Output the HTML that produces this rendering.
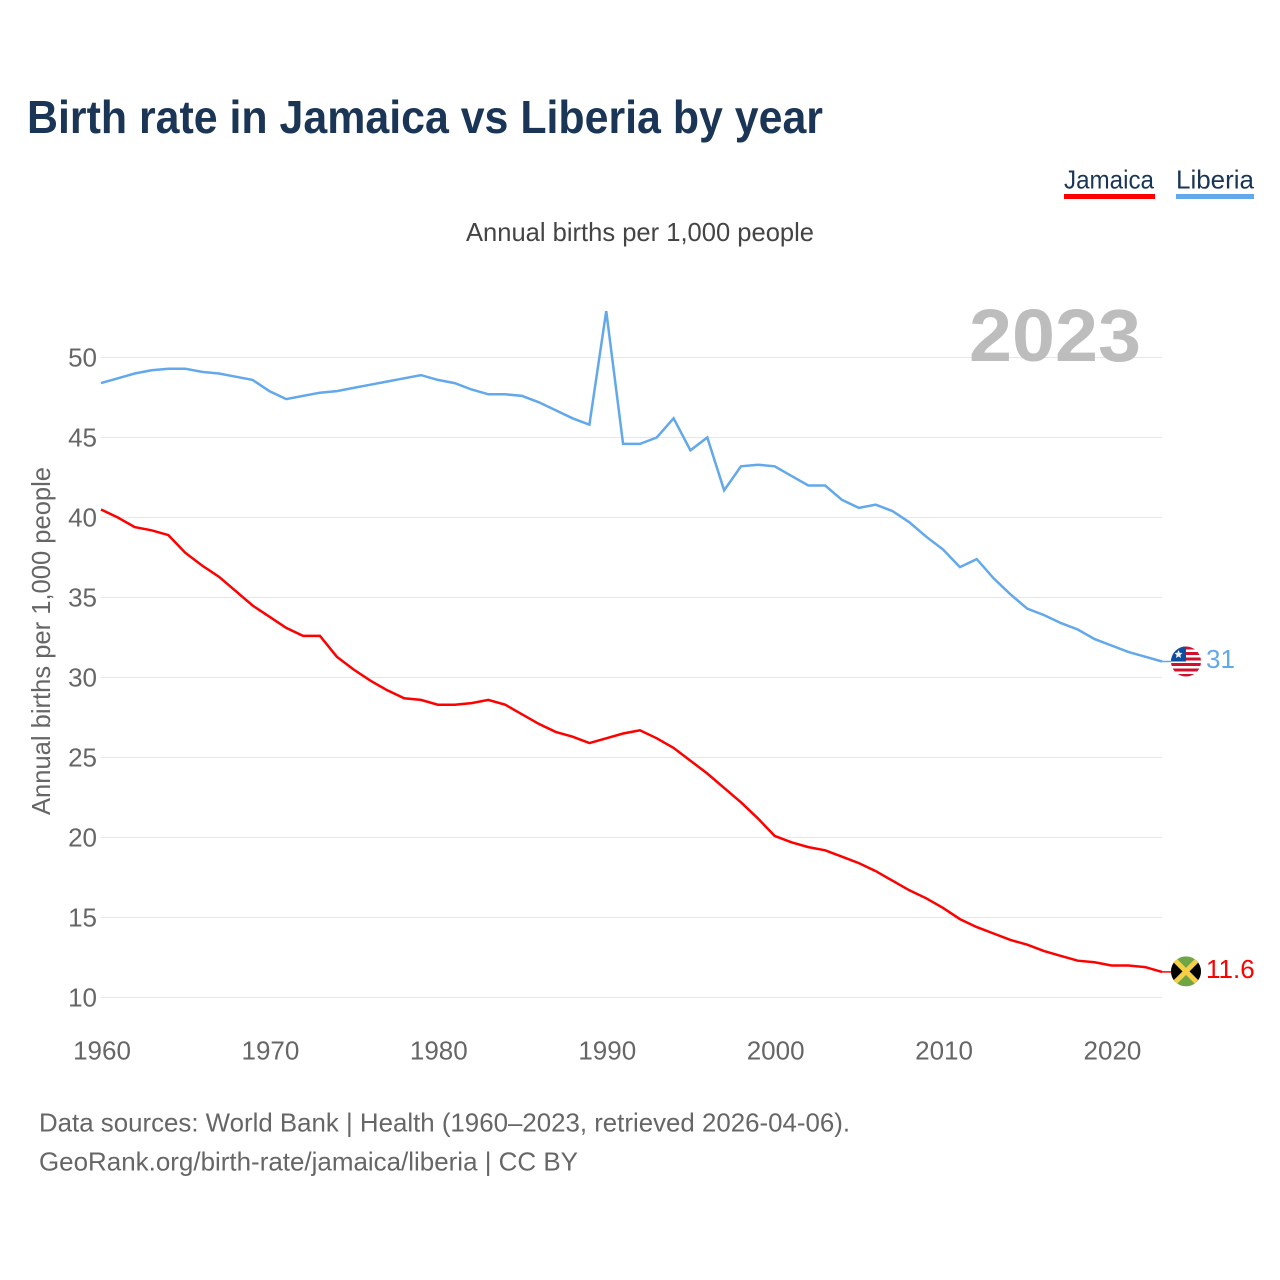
<!DOCTYPE html>
<html lang="en">
<head>
<meta charset="utf-8">
<title>Birth rate in Jamaica vs Liberia by year</title>
<style>
html,body{margin:0;padding:0;background:#fff;width:1280px;height:1280px;overflow:hidden}
svg{display:block}
text{font-family:"Liberation Sans",Arial,sans-serif}
</style>
</head>
<body>
<svg id="chart" xmlns="http://www.w3.org/2000/svg" width="1280" height="1280" viewBox="0 0 1280 1280">
  <rect x="0" y="0" width="1280" height="1280" fill="#fff"/>
  <text x="27" y="133" font-size="46" font-weight="700" fill="#1a3556" textLength="796" lengthAdjust="spacingAndGlyphs">Birth rate in Jamaica vs Liberia by year</text>

  <g>
    <text x="1064" y="188.5" font-size="26" fill="#1a3556" textLength="90" lengthAdjust="spacingAndGlyphs">Jamaica</text>
    <rect x="1064" y="194" width="91" height="5" fill="#ff0000"/>
  </g>
  <g>
    <text x="1176" y="188.5" font-size="26" fill="#1a3556" textLength="78" lengthAdjust="spacingAndGlyphs">Liberia</text>
    <rect x="1176" y="194" width="78" height="5" fill="#62a8ea"/>
  </g>

  <text x="466" y="241" font-size="26" fill="#444" textLength="348" lengthAdjust="spacingAndGlyphs">Annual births per 1,000 people</text>
  <text transform="translate(50 815) rotate(-90)" x="0" y="0" font-size="26" fill="#666" textLength="348" lengthAdjust="spacingAndGlyphs">Annual births per 1,000 people</text>

  <g id="grid"></g>
  <g id="yticks"></g>
  <g id="xticks"></g>

  <text x="969" y="361" font-size="74" font-weight="700" fill="#bdbdbd" textLength="172" lengthAdjust="spacingAndGlyphs">2023</text>

  <g id="series"></g>

  <defs>
    <clipPath id="flag-clip"><circle cx="0" cy="0" r="15"/></clipPath>
  </defs>
  <g id="flag-liberia">
    <g clip-path="url(#flag-clip)">
      <rect x="-15" y="-15" width="30" height="30" fill="#fff"/>
      <rect x="-15" y="-15" width="30" height="3" fill="#d0102c"/>
      <rect x="-15" y="-9.5" width="30" height="3" fill="#d0102c"/>
      <rect x="-15" y="-4" width="30" height="3" fill="#d0102c"/>
      <rect x="-15" y="1.5" width="30" height="3" fill="#d0102c"/>
      <rect x="-15" y="7" width="30" height="3" fill="#d0102c"/>
      <rect x="-15" y="12.5" width="30" height="3" fill="#d0102c"/>
      <rect x="-15" y="-15" width="15" height="15" fill="#0b4ea2"/>
      <polygon points="-7.5,-11.5 -6.3,-8.7 -3.5,-8.5 -5.6,-6.5 -5,-3.5 -7.5,-5 -10,-3.5 -9.4,-6.5 -11.5,-8.5 -8.7,-8.7" fill="#f2f2f2"/>
    </g>
  </g>
  <g id="flag-jamaica">
    <g clip-path="url(#flag-clip)">
      <rect x="-15" y="-15" width="30" height="30" fill="#6fa544"/>
      <polygon points="-15,-15 0,0 -15,15" fill="#000"/>
      <polygon points="15,-15 0,0 15,15" fill="#000"/>
      <line x1="-15" y1="-15" x2="15" y2="15" stroke="#f5cf47" stroke-width="5"/>
      <line x1="-15" y1="15" x2="15" y2="-15" stroke="#f5cf47" stroke-width="5"/>
    </g>
  </g>
  <text id="value-liberia" x="1206" font-size="26" fill="#62a8ea"></text>
  <text id="value-jamaica" x="1206" font-size="26" fill="#ff0000"></text>

  <text x="39" y="1131.5" font-size="26" fill="#666" textLength="811" lengthAdjust="spacingAndGlyphs">Data sources: World Bank | Health (1960–2023, retrieved 2026-04-06).</text>
  <text x="39" y="1170.5" font-size="26" fill="#666" textLength="539" lengthAdjust="spacingAndGlyphs">GeoRank.org/birth-rate/jamaica/liberia | CC BY</text>
</svg>
<script>
const startYear = 1960;
const jamaicaValues = [40.5,40.0,39.4,39.2,38.9,37.8,37.0,36.3,35.4,34.5,33.8,33.1,32.6,32.6,31.3,30.5,29.8,29.2,28.7,28.6,28.3,28.3,28.4,28.6,28.3,27.7,27.1,26.6,26.3,25.9,26.2,26.5,26.7,26.2,25.6,24.8,24.0,23.1,22.2,21.2,20.1,19.7,19.4,19.2,18.8,18.4,17.9,17.3,16.7,16.2,15.6,14.9,14.4,14.0,13.6,13.3,12.9,12.6,12.3,12.2,12.0,12.0,11.9,11.6];
const liberiaValues = [48.4,48.7,49.0,49.2,49.3,49.3,49.1,49.0,48.8,48.6,47.9,47.4,47.6,47.8,47.9,48.1,48.3,48.5,48.7,48.9,48.6,48.4,48.0,47.7,47.7,47.6,47.2,46.7,46.2,45.8,52.9,44.6,44.6,45.0,46.2,44.2,45.0,41.7,43.2,43.3,43.2,42.6,42.0,42.0,41.1,40.6,40.8,40.4,39.7,38.8,38.0,36.9,37.4,36.2,35.2,34.3,33.9,33.4,33.0,32.4,32.0,31.6,31.3,31.0];
const yTickValues = [10,15,20,25,30,35,40,45,50];
const xTickYears = [1960,1970,1980,1990,2000,2010,2020];
const jamaicaEndLabel = "11.6";
const liberiaEndLabel = "31";

const NS = "http://www.w3.org/2000/svg";
const plotLeft = 101, plotRight = 1162;
const xOf = function (year) {
  return plotLeft + (year - 1960) * (plotRight - plotLeft) / 63;
};
const yOf = function (v) {
  return 997.5 - (v - 10) * 16;
};

const gridG = document.getElementById("grid");
const yTickG = document.getElementById("yticks");
yTickValues.forEach(function (v) {
  const l = document.createElementNS(NS, "line");
  
  
  l.setAttribute("x1", plotLeft);
  l.setAttribute("x2", plotRight);
  l.setAttribute("y1", yOf(v));
  l.setAttribute("y2", yOf(v));
  l.setAttribute("stroke", "#e8e8e8");
  l.setAttribute("stroke-width", "1");
  gridG.appendChild(l);
  const t = document.createElementNS(NS, "text");
  
  
  t.setAttribute("x", 97);
  t.setAttribute("y", yOf(v) + 9);
  t.setAttribute("text-anchor", "end");
  t.setAttribute("font-size", "26");
  t.setAttribute("fill", "#666");
  t.textContent = v;
  yTickG.appendChild(t);
});

const xTickG = document.getElementById("xticks");
xTickYears.forEach(function (yr) {
  const t = document.createElementNS(NS, "text");
  
  
  t.setAttribute("x", xOf(yr) + 1);
  t.setAttribute("y", 1059.5);
  t.setAttribute("text-anchor", "middle");
  t.setAttribute("font-size", "26");
  t.setAttribute("fill", "#666");
  t.textContent = yr;
  xTickG.appendChild(t);
});

const seriesG = document.getElementById("series");
function drawLine(values, color, name) {
  const p = document.createElementNS(NS, "polyline");
  
  
  p.setAttribute("points", values.map(function (v, i) {
    return xOf(startYear + i).toFixed(2) + "," + yOf(v).toFixed(2);
  }).join(" "));
  p.setAttribute("fill", "none");
  p.setAttribute("stroke", color);
  p.setAttribute("stroke-width", "2.5");
  p.setAttribute("stroke-linejoin", "miter");
  seriesG.appendChild(p);
  const last = values[values.length - 1];
  const lead = document.createElementNS(NS, "line");
  
  
  lead.setAttribute("x1", plotRight);
  lead.setAttribute("x2", 1172);
  lead.setAttribute("y1", yOf(last));
  lead.setAttribute("y2", yOf(last));
  lead.setAttribute("stroke", color);
  lead.setAttribute("stroke-width", "1.5");
  seriesG.appendChild(lead);
}
drawLine(liberiaValues, "#62a8ea", "line-liberia");
drawLine(jamaicaValues, "#ff0000", "line-jamaica");

const liberiaLast = liberiaValues[liberiaValues.length - 1];
const jamaicaLast = jamaicaValues[jamaicaValues.length - 1];
document.getElementById("flag-liberia").setAttribute("transform", "translate(1186 " + yOf(liberiaLast) + ")");
document.getElementById("flag-jamaica").setAttribute("transform", "translate(1186 " + (yOf(jamaicaLast) - 0.5) + ")");
const vl = document.getElementById("value-liberia");
vl.setAttribute("y", yOf(liberiaLast) + 6.5);
vl.textContent = liberiaEndLabel;
const vj = document.getElementById("value-jamaica");
vj.setAttribute("y", yOf(jamaicaLast) + 6);
vj.textContent = jamaicaEndLabel;
</script>
</body>
</html>
